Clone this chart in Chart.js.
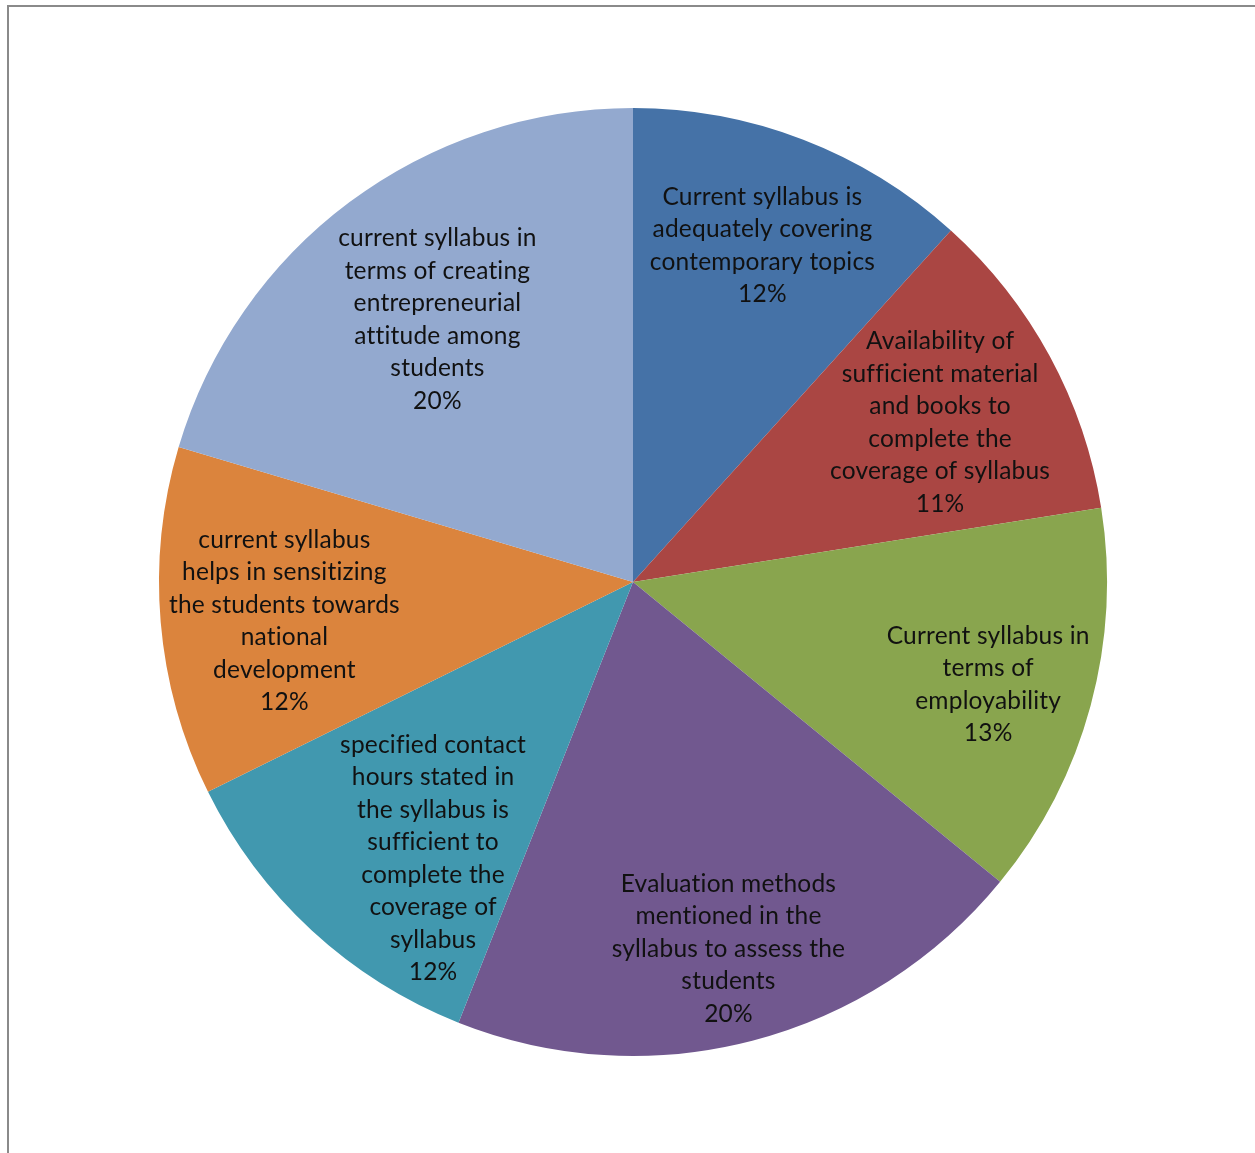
<!DOCTYPE html>
<html>
<head>
<meta charset="utf-8">
<script src="https://cdn.jsdelivr.net/npm/chart.js@4"></script>
<style>
    html, body { margin: 0; padding: 0; background: #fff; }
    #wrap { position: relative; width: 1255px; height: 1153px; overflow: hidden; }
    #frame {
        position: absolute; left: 7px; top: 5px; width: 1300px; height: 1300px;
        border-left: 2px solid #8a8a8a; border-top: 2px solid #8a8a8a;
    }
    canvas { position: absolute; left: 0; top: 0; }
</style>
</head>
<body>
<div id="wrap">
    <div id="frame"></div>
    <canvas id="pieChart" width="1255" height="1153"></canvas>
</div>
<script>
// Data (clockwise from 12 o'clock)
const categories = [
    ['Current syllabus is', 'adequately covering', 'contemporary topics'],
    ['Availability of', 'sufficient material', 'and books to', 'complete the', 'coverage of syllabus'],
    ['Current syllabus in', 'terms of', 'employability'],
    ['Evaluation methods', 'mentioned in the', 'syllabus to assess the', 'students'],
    ['specified contact', 'hours stated in', 'the syllabus is', 'sufficient to', 'complete the', 'coverage of', 'syllabus'],
    ['current syllabus', 'helps in sensitizing', 'the students towards', 'national', 'development'],
    ['current syllabus in', 'terms of creating', 'entrepreneurial', 'attitude among', 'students']
];
const shares = [11.7, 10.8, 13.4, 20.1, 11.7, 11.9, 20.4];
const colors = ['#4572A7', '#AA4643', '#89A54E', '#71588F', '#4198AF', '#DB843D', '#93A9CF'];

// label placement inside each slice: fraction of radius, angle shift in degrees
const labelRadius = [0.76, 0.73, 0.78, 0.80, 0.72, 0.74, 0.69];
const labelShift = [0, 1, 1, 0, -6.8, -1.5, 0];

const sliceLabels = {
    id: 'sliceLabels',
    afterDatasetsDraw(chart) {
        const ctx = chart.ctx;
        const meta = chart.getDatasetMeta(0);
        const values = chart.data.datasets[0].data;
        ctx.save();
        ctx.font = '24.5px Lato';
        ctx.letterSpacing = '0.2px'; // also stops the fi / tt ligatures
        ctx.fillStyle = '#111';
        ctx.textAlign = 'center';
        ctx.textBaseline = 'middle';
        const lineH = 32.5;
        meta.data.forEach((arc, i) => {
            const p = arc.getProps(['x', 'y', 'startAngle', 'endAngle', 'outerRadius'], true);
            const a = (p.startAngle + p.endAngle) / 2 + labelShift[i] * Math.PI / 180;
            const r = p.outerRadius * labelRadius[i];
            const cx = p.x + Math.cos(a) * r;
            const cy = p.y + Math.sin(a) * r;
            const lines = chart.data.labels[i].concat([Math.round(values[i]) + '%']);
            const top = cy - (lines.length - 1) * lineH / 2;
            lines.forEach((t, k) => ctx.fillText(t, cx, top + k * lineH));
        });
        ctx.restore();
    }
};

const ctx1 = document.getElementById('pieChart').getContext('2d');
const pieChart = new Chart(ctx1, {
    type: 'pie',
    data: {
        labels: categories,
        datasets: [{
            data: shares,
            backgroundColor: colors,
            borderWidth: 0
        }]
    },
    options: {
        responsive: false,
        animation: false,
        layout: { padding: { left: 159, right: 148, top: 108, bottom: 97 } },
        plugins: {
            legend: { display: false },
            tooltip: { enabled: false }
        }
    },
    plugins: [sliceLabels]
});
</script>
</body>
</html>
